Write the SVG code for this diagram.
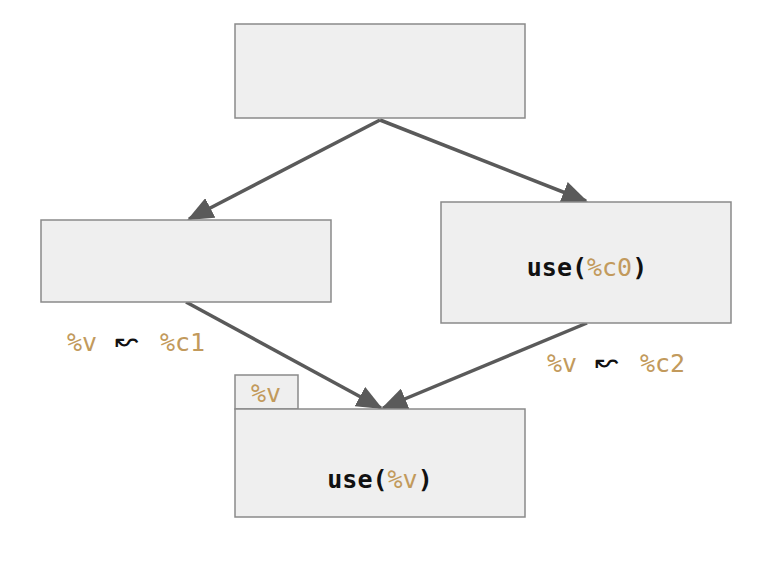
<svg xmlns="http://www.w3.org/2000/svg" width="768" height="562" viewBox="0 0 768 562">
  <style>
    .box { fill: #efefef; stroke: #8a8a8a; stroke-width: 1.5; }
    .edge { fill: none; stroke: #5a5a5a; stroke-width: 3.5; }
    .code { font-family: "DejaVu Sans Mono", "Liberation Mono", monospace; font-size: 25px; }
    .kw { font-weight: bold; fill: #111; }
    .var { fill: #c29a5c; }
    .arr { font-family: "DejaVu Sans", sans-serif; font-size: 28px; fill: #111; }
  </style>
  <defs>
    <marker id="tri" viewBox="0 0 26 22" refX="24" refY="11" markerWidth="26" markerHeight="22" markerUnits="userSpaceOnUse" orient="auto">
      <path d="M0,0 L26,11 L0,22 z" fill="#5a5a5a"/>
    </marker>
  </defs>

  <g id="edges">
    <line class="edge" x1="380" y1="120" x2="189" y2="219" marker-end="url(#tri)"/>
    <line class="edge" x1="380" y1="120" x2="586" y2="201" marker-end="url(#tri)"/>
    <line class="edge" x1="186" y1="302" x2="381" y2="408" marker-end="url(#tri)"/>
    <line class="edge" x1="587" y1="323" x2="383" y2="408" marker-end="url(#tri)"/>
  </g>

  <g id="entry">
    <rect class="box" x="235" y="24" width="290" height="94"/>
  </g>

  <g id="then">
    <rect class="box" x="41" y="220" width="290" height="82"/>
  </g>

  <g id="else">
    <rect class="box" x="441" y="202" width="290" height="121"/>
    <text class="code" x="587" y="276" text-anchor="middle"><tspan class="kw">use(</tspan><tspan class="var">%c0</tspan><tspan class="kw">)</tspan></text>
  </g>

  <g id="merge">
    <rect class="box" x="235" y="375" width="63" height="34"/>
    <text class="code var" x="266" y="402" text-anchor="middle" font-size="23">%v</text>
    <rect class="box" x="235" y="409" width="290" height="108"/>
    <text class="code" x="380" y="488" text-anchor="middle"><tspan class="kw">use(</tspan><tspan class="var">%v</tspan><tspan class="kw">)</tspan></text>
  </g>

  <g id="labels">
    <text class="code var" x="67" y="351">%v</text>
    <text class="arr" x="115" y="350">↜</text>
    <text class="code var" x="160" y="351">%c1</text>
    <text class="code var" x="547" y="372">%v</text>
    <text class="arr" x="595" y="371">↜</text>
    <text class="code var" x="640" y="372">%c2</text>
  </g>
</svg>
